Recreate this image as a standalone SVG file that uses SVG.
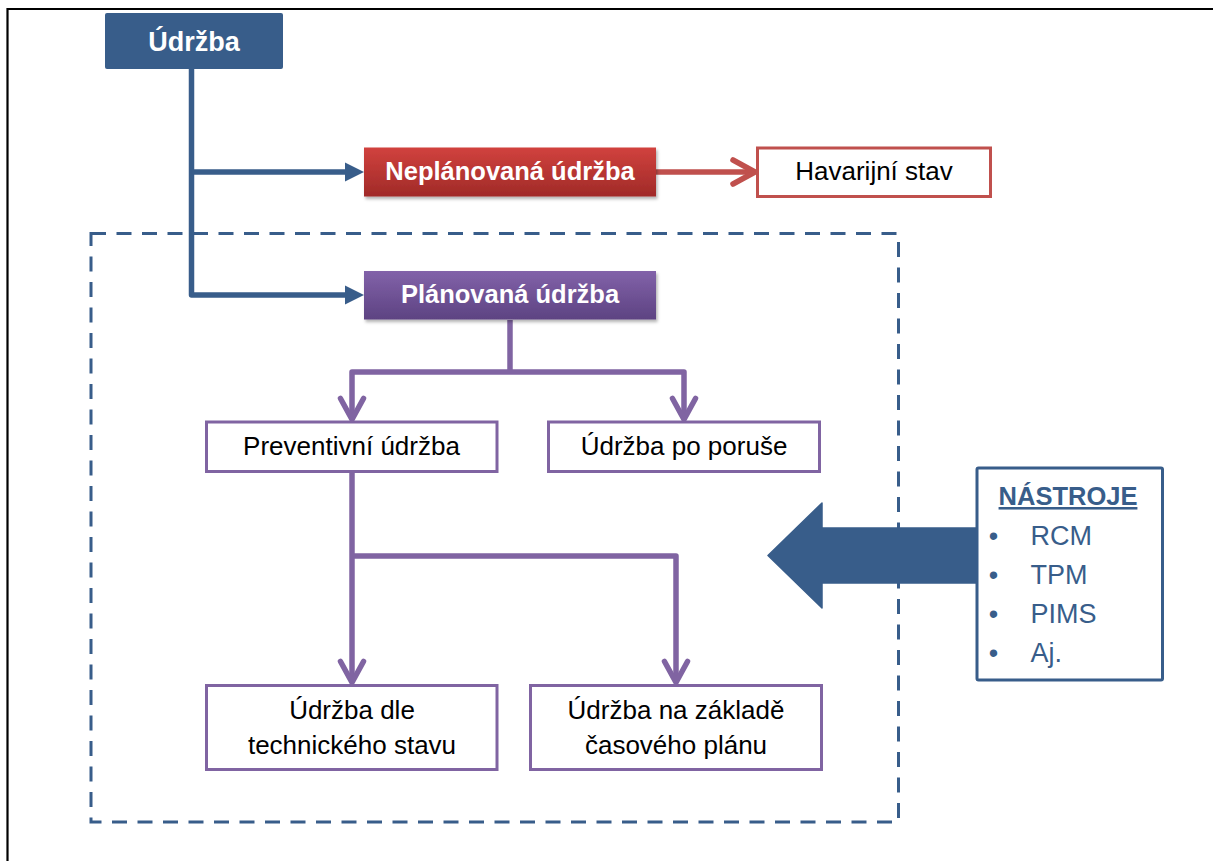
<svg xmlns="http://www.w3.org/2000/svg" width="1213" height="861" viewBox="0 0 1213 861">
  <defs>
    <linearGradient id="gRed" x1="0" y1="0" x2="0" y2="1">
      <stop offset="0" stop-color="#D1423E"/>
      <stop offset="1" stop-color="#A02A28"/>
    </linearGradient>
    <linearGradient id="gPurple" x1="0" y1="0" x2="0" y2="1">
      <stop offset="0" stop-color="#8262A9"/>
      <stop offset="1" stop-color="#5D4382"/>
    </linearGradient>
    <filter id="shadow" x="-10%" y="-20%" width="120%" height="150%">
      <feDropShadow dx="1.5" dy="2.5" stdDeviation="1.5" flood-color="#000" flood-opacity="0.3"/>
    </filter>
    <style>
      .t { font-family: "Liberation Sans", Arial, sans-serif; }
      .reg { font-size: 26px; fill: #000; text-anchor: middle; }
      .boldw { font-size: 25.5px; font-weight: bold; fill: #fff; text-anchor: middle; }
      .pbox { fill: #fff; stroke: #8064A2; stroke-width: 3; }
      .blue { stroke: #385D8A; }
      .cb { fill: none; stroke: #385D8A; stroke-width: 5.5; stroke-linejoin: round; }
      .cr { fill: none; stroke: #C0504D; stroke-width: 5.5; stroke-linejoin: round; stroke-linecap: round; }
      .cp { fill: none; stroke: #8064A2; stroke-width: 5.5; stroke-linejoin: round; }
      .chev { fill: none; stroke: #8064A2; stroke-width: 5.5; stroke-linejoin: round; stroke-linecap: round; }
      .tool { font-size: 27px; fill: #385D8A; }
    </style>
  </defs>

  <rect x="0" y="0" width="1213" height="861" fill="#fff"/>
  <path d="M7.5,861 V9 H1213" fill="none" stroke="#000" stroke-width="2.2"/>

  <!-- dashed region -->
  <rect id="planned-region" x="91" y="233.5" width="807.5" height="588.5" fill="none" stroke="#385D8A" stroke-width="3" stroke-dasharray="15 10.5"/>

  <g id="connectors">
    <path class="cb" d="M191.5,69 V295 H348"/>
    <path class="cb" d="M191.5,172 H348"/>
    <polygon points="345,162.5 364,172 345,181.5" fill="#385D8A"/>
    <polygon points="345,285.5 364,295 345,304.5" fill="#385D8A"/>

    <path class="cr" d="M656,172 H753"/>
    <path class="cr" d="M733,160 L755,172 L733,184"/>

    <path class="cp" d="M510,320 V372"/>
    <path class="cp" d="M352,419 V372 H684 V419"/>
    <path class="chev" d="M340.5,398.5 L352,419.5 L363.5,398.5"/>
    <path class="chev" d="M672.5,398.5 L684,419.5 L695.5,398.5"/>

    <path class="cp" d="M352,472 V682"/>
    <path class="cp" d="M352,556 H676 V682"/>
    <path class="chev" d="M340.5,661.5 L352,682.5 L363.5,661.5"/>
    <path class="chev" d="M664.5,661.5 L676,682.5 L687.5,661.5"/>
  </g>

  <g id="udrzba">
    <rect x="105" y="13" width="178" height="56" rx="2" fill="#385D8A"/>
    <text class="t" x="194" y="51" font-size="27" font-weight="bold" fill="#fff" text-anchor="middle">Údržba</text>
  </g>

  <g id="neplanovana">
    <rect x="364" y="147.5" width="292" height="49" fill="url(#gRed)" filter="url(#shadow)"/>
    <text class="t boldw" x="510" y="180">Neplánovaná údržba</text>
  </g>

  <g id="havarijni">
    <rect x="757.5" y="148" width="233" height="48.5" fill="#fff" stroke="#C0504D" stroke-width="3"/>
    <text class="t reg" x="874" y="180">Havarijní stav</text>
  </g>

  <g id="planovana">
    <rect x="364" y="271" width="292" height="48.5" fill="url(#gPurple)" filter="url(#shadow)"/>
    <text class="t boldw" x="510" y="303">Plánovaná údržba</text>
  </g>

  <g id="preventivni">
    <rect class="pbox" x="206.5" y="422" width="290.5" height="49.5"/>
    <text class="t reg" x="351.5" y="455">Preventivní údržba</text>
  </g>

  <g id="po-poruse">
    <rect class="pbox" x="548.5" y="422" width="271" height="49.5"/>
    <text class="t reg" x="684" y="455">Údržba po poruše</text>
  </g>

  <g id="dle-stavu">
    <rect class="pbox" x="206.5" y="685.5" width="290.5" height="84"/>
    <text class="t reg" x="352" y="718.5">Údržba dle</text>
    <text class="t reg" x="352" y="753.5">technického stavu</text>
  </g>

  <g id="casovy-plan">
    <rect class="pbox" x="530.5" y="685.5" width="291" height="84"/>
    <text class="t reg" x="676" y="718.5">Údržba na základě</text>
    <text class="t reg" x="676" y="753.5">časového plánu</text>
  </g>

  <g id="big-arrow">
    <polygon points="768,555.5 822,503 822,528 978,528 978,583 822,583 822,608" fill="#385D8A" stroke="#385D8A" stroke-width="1.5" stroke-linejoin="round"/>
  </g>

  <g id="nastroje">
    <rect x="977" y="468" width="185.5" height="212" fill="#fff" stroke="#385D8A" stroke-width="3" rx="1.5"/>
    <text class="t" x="1068" y="505" font-size="25.5" font-weight="bold" fill="#385D8A" text-anchor="middle" text-decoration="underline">NÁSTROJE</text>
    <text class="t tool" x="993.5" y="545" text-anchor="middle">•</text>
    <text class="t tool" x="1030.5" y="545">RCM</text>
    <text class="t tool" x="993.5" y="584" text-anchor="middle">•</text>
    <text class="t tool" x="1030.5" y="584">TPM</text>
    <text class="t tool" x="993.5" y="623" text-anchor="middle">•</text>
    <text class="t tool" x="1030.5" y="623">PIMS</text>
    <text class="t tool" x="993.5" y="662" text-anchor="middle">•</text>
    <text class="t tool" x="1030.5" y="662">Aj.</text>
  </g>
</svg>
